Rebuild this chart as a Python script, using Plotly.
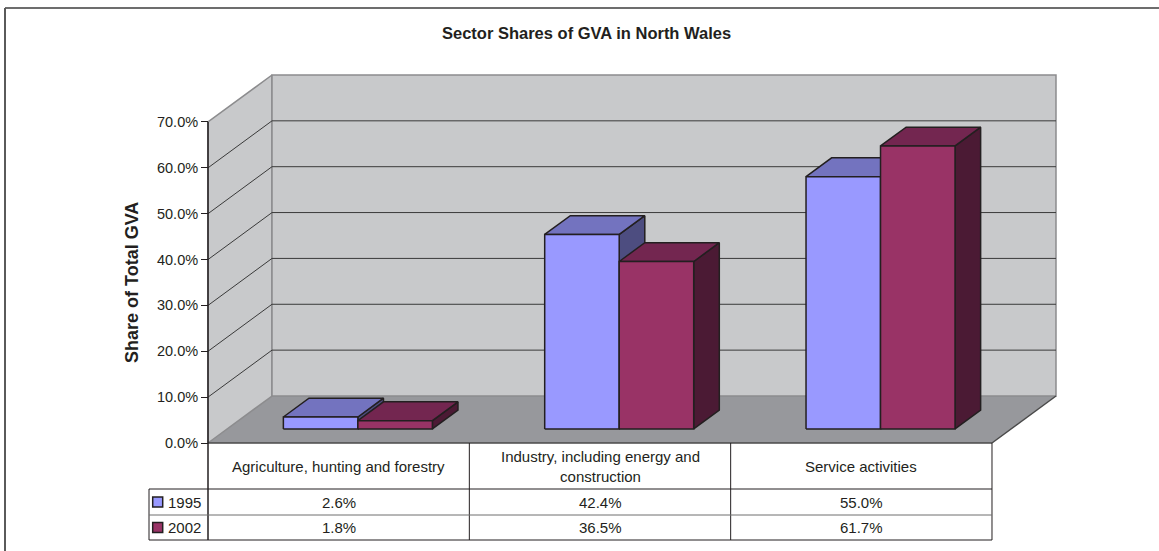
import plotly.graph_objects as go

# ---- data -------------------------------------------------------------
categories = [
    "Agriculture, hunting and forestry",
    "Industry, including energy and<br>construction",
    "Service activities",
]
series_names = ["1995", "2002"]
share_1995 = [2.6, 42.4, 55.0]
share_2002 = [1.8, 36.5, 61.7]
y_ticks = [0, 10, 20, 30, 40, 50, 60, 70]
y_tick_labels = ["0.0%", "10.0%", "20.0%", "30.0%", "40.0%", "50.0%", "60.0%", "70.0%"]

# ---- styling ----------------------------------------------------------
FONT = "Liberation Sans, Arial, sans-serif"
TEXT = "#231f20"
EDGE = "#231f20"
WALL = "#c8c9cb"
WALL_EDGE = "#8c8c8e"
FLOOR = "#97989c"
series_style = [
    dict(front="#9999ff", top="#7373bf", side="#4d4d80"),
    dict(front="#993366", top="#732650", side="#4b1a34"),
]

# ---- canvas / projection ---------------------------------------------
W, H = 1159, 551
LEFT_PX = 208.0          # front-left corner of the floor
CAT_PX = 261.33          # width of one category band on the front plane
ZERO_PX = 443.0          # vertical pixel of 0 % on the front plane
PX_PER_PCT = 4.586


def ux(px):
    return (px - LEFT_PX) / CAT_PX - 0.5


def vy(py):
    return (ZERO_PX - py) / PX_PER_PCT


DX = 64 / CAT_PX          # full chart depth, horizontal component
DY = 47 / PX_PER_PCT      # full chart depth, vertical component
F0, F1 = 0.30, 0.70       # bars occupy this slice of the depth
BAR_W = 74.5 / CAT_PX
YMAX = 70
n = len(categories)
x_left, x_right = -0.5, n - 0.5

fig = go.Figure()


def polygons(polys, fill, line_color, width):
    xs, ys = [], []
    for p in polys:
        xs += [pt[0] for pt in p] + [p[0][0], None]
        ys += [pt[1] for pt in p] + [p[0][1], None]
    fig.add_trace(go.Scatter(
        x=xs, y=ys, mode="lines", fill="toself", fillcolor=fill,
        line=dict(color=line_color, width=width),
        hoverinfo="skip", showlegend=False))


def lines(segs, color, width):
    xs, ys = [], []
    for (a, b) in segs:
        xs += [a[0], b[0], None]
        ys += [a[1], b[1], None]
    fig.add_trace(go.Scatter(
        x=xs, y=ys, mode="lines", line=dict(color=color, width=width),
        hoverinfo="skip", showlegend=False))


# floor
polygons([[(x_left, 0), (x_right, 0), (x_right + DX, DY), (x_left + DX, DY)]],
         FLOOR, "rgba(0,0,0,0)", 0)
# side wall and back wall
polygons([[(x_left, 0), (x_left, YMAX), (x_left + DX, YMAX + DY), (x_left + DX, DY)]],
         WALL, WALL_EDGE, 1.5)
polygons([[(x_left + DX, DY), (x_left + DX, YMAX + DY),
           (x_right + DX, YMAX + DY), (x_right + DX, DY)]],
         WALL, WALL_EDGE, 1.5)

# gridlines on the side and back walls
grid = []
for t in y_ticks[1:-1]:
    grid.append(((x_left, t), (x_left + DX, t + DY)))
    grid.append(((x_left + DX, t + DY), (x_right + DX, t + DY)))
lines(grid, "#3a3a3a", 1)

# floor front and right edges
lines([((x_left, 0), (x_right, 0)), ((x_right, 0), (x_right + DX, DY))], "#4a4a4a", 1.5)

# 3-D bars
for s, values in enumerate([share_1995, share_2002]):
    st = series_style[s]
    fronts, tops, sides = [], [], []
    for i, v in enumerate(values):
        c = i + F0 * DX
        xl = c - BAR_W + s * BAR_W
        xr = xl + BAR_W
        b0 = F0 * DY
        ddx = (F1 - F0) * DX
        ddy = (F1 - F0) * DY
        top = b0 + v
        fronts.append([(xl, b0), (xr, b0), (xr, top), (xl, top)])
        tops.append([(xl, top), (xr, top), (xr + ddx, top + ddy), (xl + ddx, top + ddy)])
        sides.append([(xr, b0), (xr + ddx, b0 + ddy), (xr + ddx, top + ddy), (xr, top)])
    polygons(sides, st["side"], EDGE, 1.5)
    polygons(tops, st["top"], EDGE, 1.5)
    polygons(fronts, st["front"], EDGE, 1.5)

# ---- data table -------------------------------------------------------
row_bottoms = [vy(489), vy(515), vy(540)]
legend_left = ux(149)
table_bottom = row_bottoms[-1]

# value axis line, continuing down as the table's first column border
lines([((x_left, YMAX), (x_left, table_bottom))], EDGE, 1.5)
# column borders
lines([((x_left + k, 0), (x_left + k, table_bottom)) for k in range(1, n + 1)], EDGE, 1)
# row borders
lines([((legend_left, row_bottoms[0]), (x_right, row_bottoms[0])),
       ((legend_left, row_bottoms[2]), (x_right, row_bottoms[2])),
       ((legend_left, row_bottoms[0]), (legend_left, row_bottoms[2]))], EDGE, 1)
lines([((legend_left, row_bottoms[1]), (x_right, row_bottoms[1]))], "#6e6e6e", 1)

TABLE_FONT = dict(family=FONT, size=15, color=TEXT)
annotations = []
header_mid = row_bottoms[0] / 2
for i, cat in enumerate(categories):
    annotations.append(dict(x=i, y=header_mid, xref="x", yref="y", text=cat,
                            xanchor="center", yanchor="middle",
                            showarrow=False, font=TABLE_FONT))

row_mids = [(row_bottoms[0] + row_bottoms[1]) / 2, (row_bottoms[1] + row_bottoms[2]) / 2]
for s, values in enumerate([share_1995, share_2002]):
    for i, v in enumerate(values):
        annotations.append(dict(x=i, y=row_mids[s], xref="x", yref="y",
                                text=f"{v:.1f}%", showarrow=False,
                                xanchor="center", yanchor="middle", font=TABLE_FONT))
    annotations.append(dict(x=ux(166), y=row_mids[s], xref="x", yref="y",
                            text=series_names[s], showarrow=False,
                            xanchor="left", yanchor="middle", font=TABLE_FONT))

# legend keys in the table
fig.add_trace(go.Scatter(
    x=[ux(157.7)] * 2, y=row_mids, mode="markers",
    marker=dict(symbol="square", size=10,
                color=[series_style[0]["front"], series_style[1]["front"]],
                line=dict(color=EDGE, width=1.5)),
    hoverinfo="skip", showlegend=False))

# titles
annotations.append(dict(x=586 / W, y=1 - 33 / H, xref="paper", yref="paper",
                        xanchor="center", yanchor="middle",
                        text="<b>Sector Shares of GVA in North Wales</b>", showarrow=False,
                        font=dict(family=FONT, size=16.5, color=TEXT)))
annotations.append(dict(x=132 / W, y=1 - 283 / H, xref="paper", yref="paper",
                        xanchor="center", yanchor="middle",
                        text="<b>Share of Total GVA</b>", textangle=-90, showarrow=False,
                        font=dict(family=FONT, size=18, color=TEXT)))

# chart frame (left and top edges)
shapes = [
    dict(type="line", xref="paper", yref="paper", x0=5 / W, x1=1, y0=1 - 8 / H, y1=1 - 8 / H,
         line=dict(color="#3c3c3c", width=1.5)),
    dict(type="line", xref="paper", yref="paper", x0=5 / W, x1=5 / W, y0=0, y1=1 - 8 / H,
         line=dict(color="#5a5a5a", width=2)),
]

fig.update_layout(
    width=W, height=H, autosize=False,
    margin=dict(l=0, r=0, t=0, b=0),
    paper_bgcolor="white", plot_bgcolor="white",
    showlegend=False, hovermode=False,
    annotations=annotations, shapes=shapes,
    xaxis=dict(range=[ux(0), ux(W)], visible=False, fixedrange=True),
    yaxis=dict(range=[vy(H), vy(0)], anchor="free", position=LEFT_PX / W,
               tickvals=y_ticks, ticktext=y_tick_labels, ticks="outside",
               ticklen=7, tickwidth=1.2, tickcolor=EDGE, showgrid=False,
               zeroline=False, showline=False, automargin=False, fixedrange=True,
               tickfont=dict(family=FONT, size=14.5, color=TEXT)),
)

fig.write_html("out.html")
